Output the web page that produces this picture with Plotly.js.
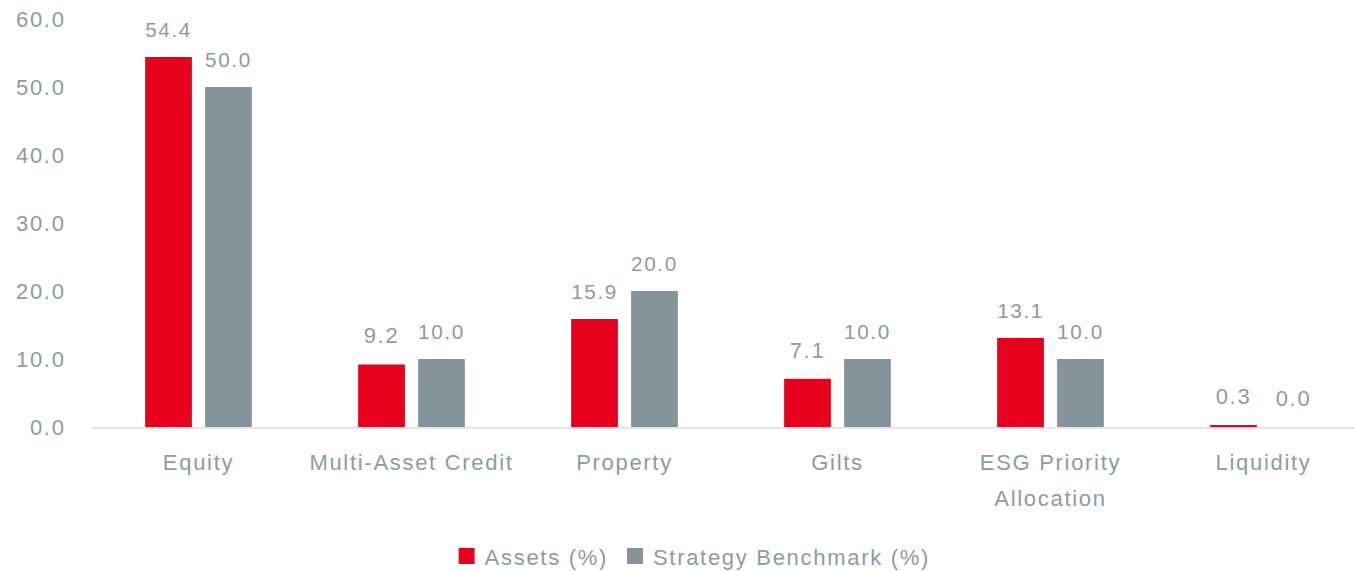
<!DOCTYPE html>
<html><head><meta charset="utf-8">
<script src="https://cdn.plot.ly/plotly-3.0.1.min.js"></script>
<style>
html,body{margin:0;padding:0;overflow:hidden;background:#fff}
#chart{width:1370px;height:571px}
svg text{letter-spacing:1.7px}
</style>
</head><body><div id="chart"></div>
<script>
const categories = ["Equity", "Multi-Asset Credit", "Property", "Gilts", "ESG Priority<br>Allocation", "Liquidity"];
const assets = [54.4, 9.2, 15.9, 7.1, 13.1, 0.3];
const benchmark = [50.0, 10.0, 20.0, 10.0, 10.0, 0.0];
const seriesNames = ["Assets (%)", "Strategy Benchmark (%)"];
const textColor = "#8c9ba6";
const font = {family: "Liberation Sans, Arial, sans-serif", size: 22, color: textColor};
const traces = [
  {type: "bar", x: categories, y: assets, name: seriesNames[0], marker: {color: "#e8001c"},
   text: assets.map(v => v.toFixed(1)), textposition: "outside", cliponaxis: false, textfont: font},
  {type: "bar", x: categories, y: benchmark, name: seriesNames[1], marker: {color: "#85949b"},
   text: benchmark.map(v => v.toFixed(1)), textposition: "outside", cliponaxis: false, textfont: font}
];
const layout = {
  width: 1370, height: 571,
  margin: {l: 92, r: 0, t: 19, b: 144},
  barmode: "group", bargap: 0.437, bargroupgap: 0.22,
  font: font,
  paper_bgcolor: "#fff", plot_bgcolor: "#fff",
  xaxis: {showline: true, linecolor: "#e3e6ea", linewidth: 2, ticks: "outside", ticklen: 15,
          tickcolor: "rgba(0,0,0,0)", tickfont: font, showgrid: false},
  yaxis: {range: [0, 60], dtick: 10, tickformat: ".1f", showgrid: false, zeroline: false, showline: false,
          ticks: "outside", ticklen: 21, tickcolor: "rgba(0,0,0,0)", tickfont: font},
  legend: {orientation: "h", x: 0.468, xanchor: "center", yref: "container", y: 0.026, yanchor: "middle",
           font: font, traceorder: "normal"},
  showlegend: true
};
Plotly.newPlot("chart", traces, layout, {displayModeBar: false, staticPlot: true}).then(gd => {
  gd.querySelectorAll(".bartext").forEach(t => {
    t.setAttribute("transform", (t.getAttribute("transform") || "") + " translate(0,-13)");
  });
  gd.querySelectorAll(".xtick text tspan.line").forEach(s => {
    const dy = parseFloat(s.getAttribute("dy") || "0");
    if (dy > 0) s.setAttribute("dy", (dy / 1.3 * 1.6) + "em");
  });
  gd.querySelectorAll(".legendpoints path").forEach(p => {
    p.setAttribute("transform", (p.getAttribute("transform") || "") + " translate(2,0) scale(1.33)");
  });
});
</script></body></html>
